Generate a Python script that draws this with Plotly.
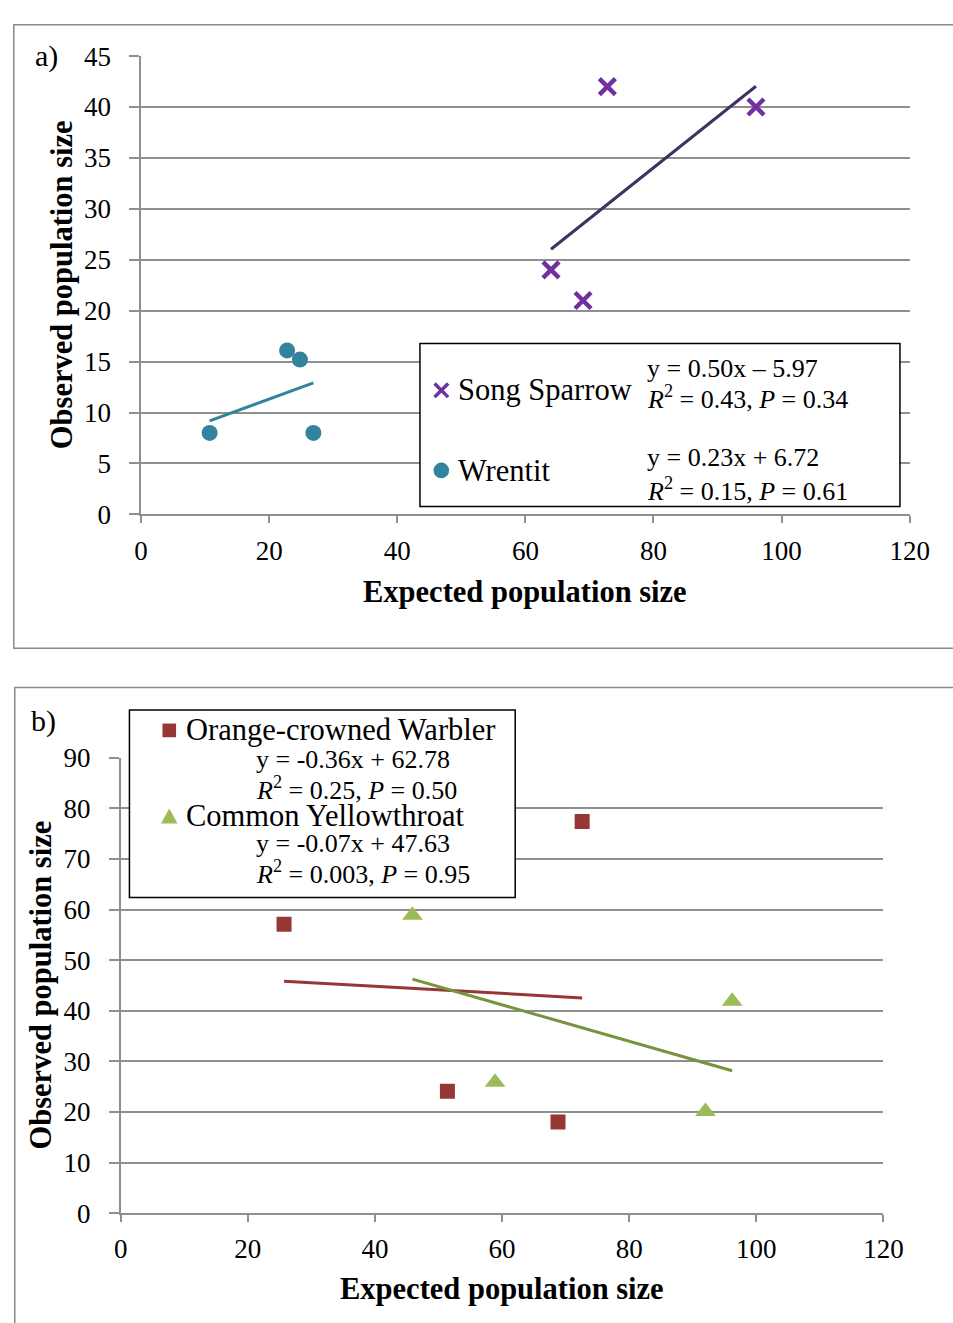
import plotly.graph_objects as go

# ---------------- data ----------------
# Panel a
song_sparrow_x = [64.0, 69.0, 72.8, 96.0]
song_sparrow_y = [24.0, 21.0, 42.0, 40.0]
wrentit_x = [10.7, 22.8, 24.8, 26.9]
wrentit_y = [8.0, 16.1, 15.2, 8.0]
# Panel b
ocw_x = [25.7, 51.4, 68.8, 72.6]
ocw_y = [57.1, 24.1, 18.0, 77.4]
cy_x = [45.9, 58.9, 92.0, 96.2]
cy_y = [58.9, 25.9, 20.1, 41.9]

# trendlines as drawn (slope, intercept)
ss_fit = (0.50, -5.97)
wr_fit = (0.23, 6.72)
ocw_line_fit = (-0.07, 47.63)   # line drawn in red in the original
cy_line_fit = (-0.36, 62.78)    # line drawn in green in the original

x_ticks = [0, 20, 40, 60, 80, 100, 120]
ya_ticks = [0, 5, 10, 15, 20, 25, 30, 35, 40, 45]
yb_ticks = [0, 10, 20, 30, 40, 50, 60, 70, 80, 90]

# ---------------- style ----------------
W, H = 953, 1323
SERIF = "Liberation Serif, Times New Roman, serif"
PURPLE = "#7030a0"
PURPLE_LINE = "#3f3160"
TEAL = "#31849b"
RED = "#953735"
GREEN = "#9bbb59"
GREEN_LINE = "#77933c"
GRID = "#8f8f8f"


def px(x):
    return x / W


def py(y):
    return 1 - y / H


def line_pts(xs, fit):
    x0, x1 = min(xs), max(xs)
    m, b = fit
    return [x0, x1], [m * x0 + b, m * x1 + b]


fig = go.Figure()

# panel a
fig.add_trace(go.Scatter(x=song_sparrow_x, y=song_sparrow_y, mode="markers",
                         marker=dict(symbol="x-thin", size=16, line=dict(width=4.5, color=PURPLE)),
                         xaxis="x", yaxis="y", showlegend=False))
lx, ly = line_pts(song_sparrow_x, ss_fit)
fig.add_trace(go.Scatter(x=lx, y=ly, mode="lines", line=dict(color=PURPLE_LINE, width=3),
                         xaxis="x", yaxis="y", showlegend=False))
fig.add_trace(go.Scatter(x=wrentit_x, y=wrentit_y, mode="markers",
                         marker=dict(symbol="circle", size=16, color=TEAL),
                         xaxis="x", yaxis="y", showlegend=False))
lx, ly = line_pts(wrentit_x, wr_fit)
fig.add_trace(go.Scatter(x=lx, y=ly, mode="lines", line=dict(color=TEAL, width=3),
                         xaxis="x", yaxis="y", showlegend=False))

# panel b
fig.add_trace(go.Scatter(x=ocw_x, y=ocw_y, mode="markers",
                         marker=dict(symbol="square", size=15, color=RED),
                         xaxis="x2", yaxis="y2", showlegend=False))
lx, ly = line_pts(ocw_x, ocw_line_fit)
fig.add_trace(go.Scatter(x=lx, y=ly, mode="lines", line=dict(color=RED, width=3),
                         xaxis="x2", yaxis="y2", showlegend=False))
fig.add_trace(go.Scatter(x=cy_x, y=cy_y, mode="markers",
                         marker=dict(symbol="triangle-up", size=18, color=GREEN),
                         xaxis="x2", yaxis="y2", showlegend=False))
lx, ly = line_pts(cy_x, cy_line_fit)
fig.add_trace(go.Scatter(x=lx, y=ly, mode="lines", line=dict(color=GREEN_LINE, width=3),
                         xaxis="x2", yaxis="y2", showlegend=False))

tickfont = dict(family=SERIF, size=27, color="black")
common_x = dict(range=[0, 120], tickvals=x_ticks, showgrid=False, zeroline=False,
                showline=True, linecolor=GRID, linewidth=1.5, ticks="outside", ticklen=7,
                tickcolor=GRID, tickwidth=1.5, tickfont=tickfont, ticklabelstandoff=4,
                fixedrange=True)
common_y = dict(showgrid=True, gridcolor=GRID, gridwidth=1.5, zeroline=False,
                showline=True, linecolor=GRID, linewidth=1.5, ticks="outside", ticklen=10,
                tickcolor=GRID, tickwidth=1.5, tickfont=tickfont, ticklabelstandoff=13,
                fixedrange=True)

fig.update_layout(
    width=W, height=H, margin=dict(l=0, r=0, t=0, b=0), autosize=False,
    paper_bgcolor="white", plot_bgcolor="white", showlegend=False,
    xaxis=dict(domain=[px(138), px(929)], anchor="y", **common_x),
    yaxis=dict(domain=[py(511), py(42)], anchor="x", range=[0, 45], tickvals=ya_ticks, **common_y),
    xaxis2=dict(domain=[px(117), px(902)], anchor="y2", **common_x),
    yaxis2=dict(domain=[py(1226), py(760)], anchor="x2", range=[0, 90], tickvals=yb_ticks, **common_y),
)

shapes = []
# panel borders
shapes.append(dict(type="rect", xref="paper", yref="paper", x0=px(7), x1=px(985), y0=py(648), y1=py(10),
                   line=dict(color="#8a8a8a", width=1.5), fillcolor="rgba(0,0,0,0)", layer="below"))
shapes.append(dict(type="rect", xref="paper", yref="paper", x0=px(8), x1=px(985), y0=py(1360), y1=py(688),
                   line=dict(color="#8a8a8a", width=1.5), fillcolor="rgba(0,0,0,0)", layer="below"))
# legend boxes
shapes.append(dict(type="rect", xref="paper", yref="paper", x0=px(425), x1=px(919), y0=py(503), y1=py(336),
                   line=dict(color="black", width=1.5), fillcolor="white", layer="above"))
shapes.append(dict(type="rect", xref="paper", yref="paper", x0=px(126), x1=px(523), y0=py(903), y1=py(711),
                   line=dict(color="black", width=1.5), fillcolor="white", layer="above"))


# legend symbols (drawn as shapes at legend-key positions)
def sym_x(cx, cy, r, color):
    shapes.append(dict(type="line", xref="paper", yref="paper", x0=px(cx - r), x1=px(cx + r),
                       y0=py(cy - r), y1=py(cy + r), line=dict(color=color, width=3.5), layer="above"))
    shapes.append(dict(type="line", xref="paper", yref="paper", x0=px(cx - r), x1=px(cx + r),
                       y0=py(cy + r), y1=py(cy - r), line=dict(color=color, width=3.5), layer="above"))


def sym_circle(cx, cy, r, color):
    shapes.append(dict(type="circle", xref="paper", yref="paper", x0=px(cx - r), x1=px(cx + r),
                       y0=py(cy + r), y1=py(cy - r), line=dict(width=0), fillcolor=color, layer="above"))


def sym_square(cx, cy, r, color):
    shapes.append(dict(type="rect", xref="paper", yref="paper", x0=px(cx - r), x1=px(cx + r),
                       y0=py(cy + r), y1=py(cy - r), line=dict(width=0), fillcolor=color, layer="above"))


def sym_triangle(cx, cy, r, color):
    path = (f"M {px(cx - r)} {py(cy + r * 0.85)} L {px(cx + r)} {py(cy + r * 0.85)} "
            f"L {px(cx)} {py(cy - r * 0.95)} Z")
    shapes.append(dict(type="path", xref="paper", yref="paper", path=path,
                       line=dict(width=0), fillcolor=color, layer="above"))


sym_x(447, 384, 7, PURPLE)
sym_circle(447, 466, 8, TEAL)
sym_square(167, 732, 7, RED)
sym_triangle(167, 820, 8.5, GREEN)

fig.update_layout(shapes=shapes)

ann = []


def txt(x, y, text, size, color="black", xanchor="left", bold=False, angle=0):
    t = f"<b>{text}</b>" if bold else text
    ann.append(dict(x=px(x), y=py(y), xref="paper", yref="paper", text=t, showarrow=False,
                    xanchor=xanchor, yanchor="middle", textangle=angle,
                    font=dict(family=SERIF, size=size, color=color)))


# panel labels
txt(27, 42, "a)", 30)
txt(23, 722, "b)", 30)
# axis titles
txt(533, 590, "Expected population size", 30.5, xanchor="center", bold=True)
txt(509, 1304, "Expected population size", 30.5, xanchor="center", bold=True)
txt(56, 276, "Observed population size", 30.5, xanchor="center", bold=True, angle=-90)
txt(35, 993, "Observed population size", 30.5, xanchor="center", bold=True, angle=-90)

# legend a
txt(462, 384, "Song Sparrow", 30.5)
txt(657, 362, "y = 0.50x – 5.97", 26)
txt(657, 391, "<i>R</i><sup>2</sup> = 0.43, <i>P</i> = 0.34", 26)
txt(462, 467, "Wrentit", 30.5)
txt(657, 453, "y = 0.23x + 6.72", 26)
txt(657, 485, "<i>R</i><sup>2</sup> = 0.15, <i>P</i> = 0.61", 26)

# legend b
txt(182, 732, "Orange-crowned Warbler", 30.5)
txt(254, 762, "y = -0.36x + 62.78", 26)
txt(254, 791, "<i>R</i><sup>2</sup> = 0.25, <i>P</i> = 0.50", 26)
txt(182, 820, "Common Yellowthroat", 30.5)
txt(254, 848, "y = -0.07x + 47.63", 26)
txt(254, 877, "<i>R</i><sup>2</sup> = 0.003, <i>P</i> = 0.95", 26)

fig.update_layout(annotations=ann)

fig.write_html("out.html")
